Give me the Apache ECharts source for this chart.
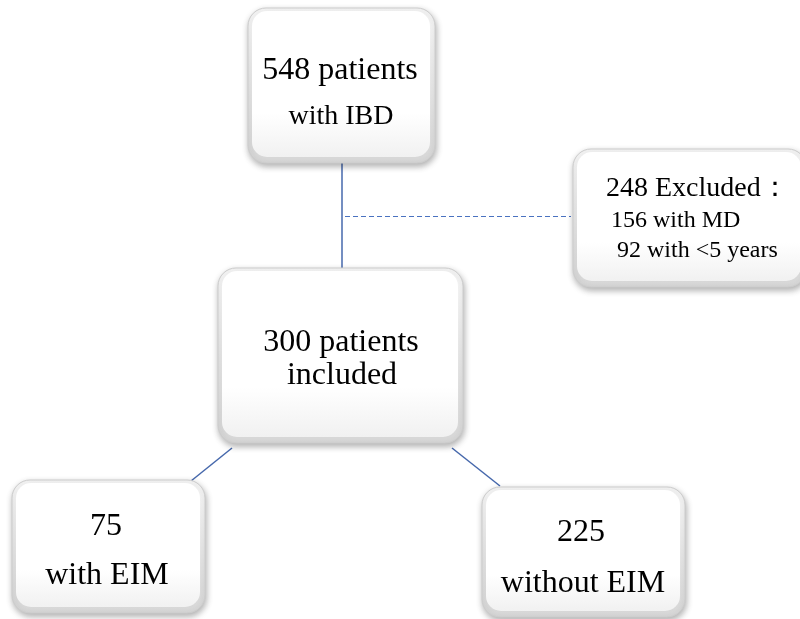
<!DOCTYPE html>
<html>
<head>
<meta charset="utf-8">
<script src="https://cdn.jsdelivr.net/npm/echarts@6/dist/echarts.min.js"></script>
<style>
  html, body { margin: 0; padding: 0; background: #fff; }
  #chart { width: 800px; height: 619px; }
</style>
</head>
<body>
<div id="chart"></div>
<script>
// 流程图文字
var boxTitles = ['548 patients', '248 Excluded：', '300 patients', '75', '225'];
var boxLines = [
    ['with IBD'],
    ['156 with MD', '92 with <5 years'],
    ['included'],
    ['with EIM'],
    ['without EIM']
];
var links = [[0, 2], [2, 3], [2, 4]];
var excludedLink = [0, 1];

// 版面 (像素坐标): [x, 基线y, 对齐, 字号]
var boxRects = [
    [248, 8, 435, 163],
    [573, 149, 806, 287],
    [218, 268, 463, 443],
    [12, 480, 205, 613],
    [482, 487, 685, 617]
];
var textPos = [
    [[340, 80, 'center', 32], [341, 125, 'center', 28]],
    [[606, 197, 'left', 28], [611, 228, 'left', 24], [617, 258, 'left', 24]],
    [[341, 352, 'center', 32], [342, 385, 'center', 32]],
    [[106, 536, 'center', 32], [107, 585, 'center', 32]],
    [[581, 542, 'center', 32], [583, 593, 'center', 32]]
];
var linkPos = [
    [[342, 163], [342, 268]],
    [[232, 448], [191, 481]],
    [[452, 448], [500, 486]]
];
var excludedPos = [[345, 216], [571, 216]];

var chart = echarts.init(document.getElementById('chart'));

var boxData = boxRects.map(function (r, i) {
    return { value: r.concat([i]) };
});

var textData = [];
boxTitles.forEach(function (t, i) {
    var all = [t].concat(boxLines[i]);
    all.forEach(function (s, j) {
        var p = textPos[i][j];
        textData.push({ value: [p[0], p[1]], text: s, align: p[2], size: p[3] });
    });
});

var lineData = links.map(function (l, i) {
    return { coords: linkPos[i] };
});

function renderBox(params, api) {
    var p0 = api.coord([api.value(0), api.value(1)]);
    var p1 = api.coord([api.value(2), api.value(3)]);
    var x = p0[0], y = p0[1], w = p1[0] - p0[0], h = p1[1] - p0[1];
    return {
        type: 'group',
        children: [
            {
                type: 'rect',
                shape: { x: x, y: y, width: w, height: h, r: 18 },
                style: {
                    fill: new echarts.graphic.LinearGradient(0, 0, 0, 1, [
                        { offset: 0, color: '#f7f7f7' },
                        { offset: 1, color: '#d6d6d6' }
                    ]),
                    stroke: '#cccccc',
                    lineWidth: 1,
                    shadowBlur: 6,
                    shadowColor: 'rgba(0,0,0,0.3)',
                    shadowOffsetX: 1,
                    shadowOffsetY: 3
                }
            },
            {
                type: 'rect',
                shape: { x: x + 4, y: y + 3, width: w - 9, height: h - 9, r: 15 },
                style: {
                    fill: new echarts.graphic.LinearGradient(0, 0, 0, 1, [
                        { offset: 0, color: '#ffffff' },
                        { offset: 0.7, color: '#ffffff' },
                        { offset: 1, color: '#f1f1f1' }
                    ])
                }
            }
        ]
    };
}

function renderText(params, api) {
    var item = textData[params.dataIndex];
    var p = api.coord([api.value(0), api.value(1)]);
    return {
        type: 'text',
        x: p[0],
        y: p[1] + item.size * 0.216,
        style: {
            text: item.text,
            fill: '#000',
            font: item.size + 'px "Liberation Serif", "Times New Roman", serif',
            textAlign: item.align,
            textVerticalAlign: 'bottom'
        }
    };
}

var option = {
    backgroundColor: '#fff',
    animation: false,
    grid: { left: 0, right: 0, top: 0, bottom: 0 },
    xAxis: { type: 'value', min: 0, max: 800, show: false },
    yAxis: { type: 'value', min: 0, max: 619, inverse: true, show: false },
    series: [
        {
            type: 'lines',
            coordinateSystem: 'cartesian2d',
            z: 1,
            lineStyle: { color: '#4668ac', width: 1.5, opacity: 1 },
            data: lineData
        },
        {
            type: 'lines',
            coordinateSystem: 'cartesian2d',
            z: 1,
            lineStyle: { color: '#4a72c0', width: 1.2, type: [5, 3], opacity: 1 },
            data: [{ coords: excludedPos }]
        },
        {
            type: 'custom',
            z: 2,
            renderItem: renderBox,
            data: boxData
        },
        {
            type: 'custom',
            z: 3,
            renderItem: renderText,
            data: textData
        }
    ]
};
chart.setOption(option);
</script>
</body>
</html>
